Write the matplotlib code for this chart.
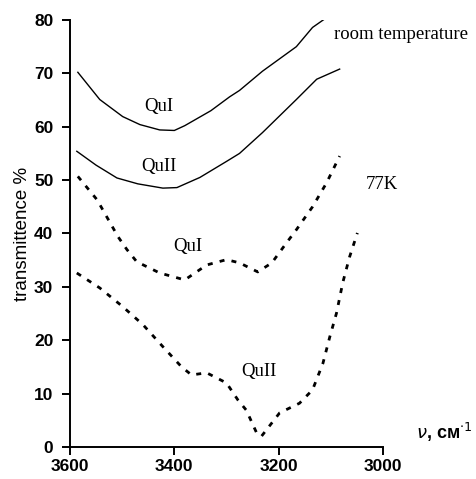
import matplotlib
matplotlib.use("Agg")
import matplotlib.pyplot as plt

# Room temperature, QuI (solid)
rt_qui_x = [3585, 3543, 3499, 3466, 3428, 3400, 3380, 3330, 3294, 3275, 3231, 3166, 3135, 3097]
rt_qui_y = [70.2, 65.1, 61.9, 60.4, 59.4, 59.3, 60.2, 63.0, 65.6, 66.8, 70.4, 75.0, 78.6, 81.2]

# Room temperature, QuII (solid)
rt_quii_x = [3587, 3550, 3510, 3470, 3422, 3395, 3351, 3300, 3275, 3231, 3166, 3127, 3083]
rt_quii_y = [55.4, 52.8, 50.4, 49.3, 48.5, 48.6, 50.5, 53.5, 55.0, 58.9, 65.1, 68.9, 70.8]

# 77K, QuI (dotted)
k77_qui_x = [3585, 3548, 3508, 3491, 3472, 3428, 3380, 3338, 3300, 3275, 3240, 3213, 3183, 3166, 3135, 3108, 3083]
k77_qui_y = [50.7, 46.3, 39.4, 37.0, 34.7, 32.6, 31.3, 34.1, 35.1, 34.5, 32.8, 34.5, 38.5, 40.7, 45.0, 49.5, 54.5]

# 77K, QuII (dotted)
k77_quii_x = [3587, 3543, 3499, 3460, 3422, 3386, 3367, 3338, 3300, 3278, 3262, 3242, 3233, 3198, 3160, 3135, 3115, 3102, 3089, 3077, 3064, 3049]
k77_quii_y = [32.6, 29.8, 26.3, 22.9, 18.8, 15.0, 13.5, 13.9, 12.0, 8.8, 6.9, 2.6, 2.0, 6.4, 8.2, 10.7, 15.7, 20.6, 25.1, 30.8, 35.6, 40.1]

x_ticks = [3600, 3400, 3200, 3000]
y_ticks = [0, 10, 20, 30, 40, 50, 60, 70, 80]

fig = plt.figure(figsize=(4.77, 4.79), dpi=100)
ax = fig.add_axes([0.1468, 0.0668, 0.656, 0.8915])

ax.plot(rt_qui_x, rt_qui_y, color="black", lw=1.0)
ax.plot(rt_quii_x, rt_quii_y, color="black", lw=1.0)
dots = (0, (1.8, 2.6))
ax.plot(k77_qui_x, k77_qui_y, color="black", lw=2.0, linestyle=dots)
ax.plot(k77_quii_x, k77_quii_y, color="black", lw=2.0, linestyle=dots)

ax.set_xlim(3600, 3000)
ax.set_ylim(0, 80)
ax.set_xticks(x_ticks)
ax.set_yticks(y_ticks)
for s in ["top", "right"]:
    ax.spines[s].set_visible(False)
for s in ["left", "bottom"]:
    ax.spines[s].set_linewidth(1.4)
ax.tick_params(direction="out", length=6, width=1.4, labelsize=12.5)
ax.tick_params(axis="y", pad=6)
ax.tick_params(axis="x", pad=2.5)
for lab in ax.get_xticklabels() + ax.get_yticklabels():
    lab.set_family("Liberation Sans")
    lab.set_fontweight("bold")

ax.set_ylabel("transmittence %", family="Liberation Sans", fontsize=13.5)
ax.yaxis.set_label_coords(-0.125, 0.5)

serif = "Liberation Serif"
fs = 13.5
ax.text(3430, 63.8, "QuI", family=serif, fontsize=fs, ha="center", va="center")
ax.text(3429, 52.5, "QuII", family=serif, fontsize=fs, ha="center", va="center")
ax.text(3093, 77.3, "room temperature", family=serif, fontsize=13.5, ha="left", va="center")
ax.text(3032, 49.2, "77K", family=serif, fontsize=fs, ha="left", va="center")
ax.text(3374, 37.5, "QuI", family=serif, fontsize=fs, ha="center", va="center")
ax.text(3271, 14.1, "QuII", family=serif, fontsize=fs, ha="left", va="center")

fig.text(0.872, 0.098, r"$\nu$, см$^{\cdot 1}$", family="Liberation Sans", fontsize=13,
         fontweight="bold", ha="left", va="center")

fig.savefig("out.png", dpi=100)
